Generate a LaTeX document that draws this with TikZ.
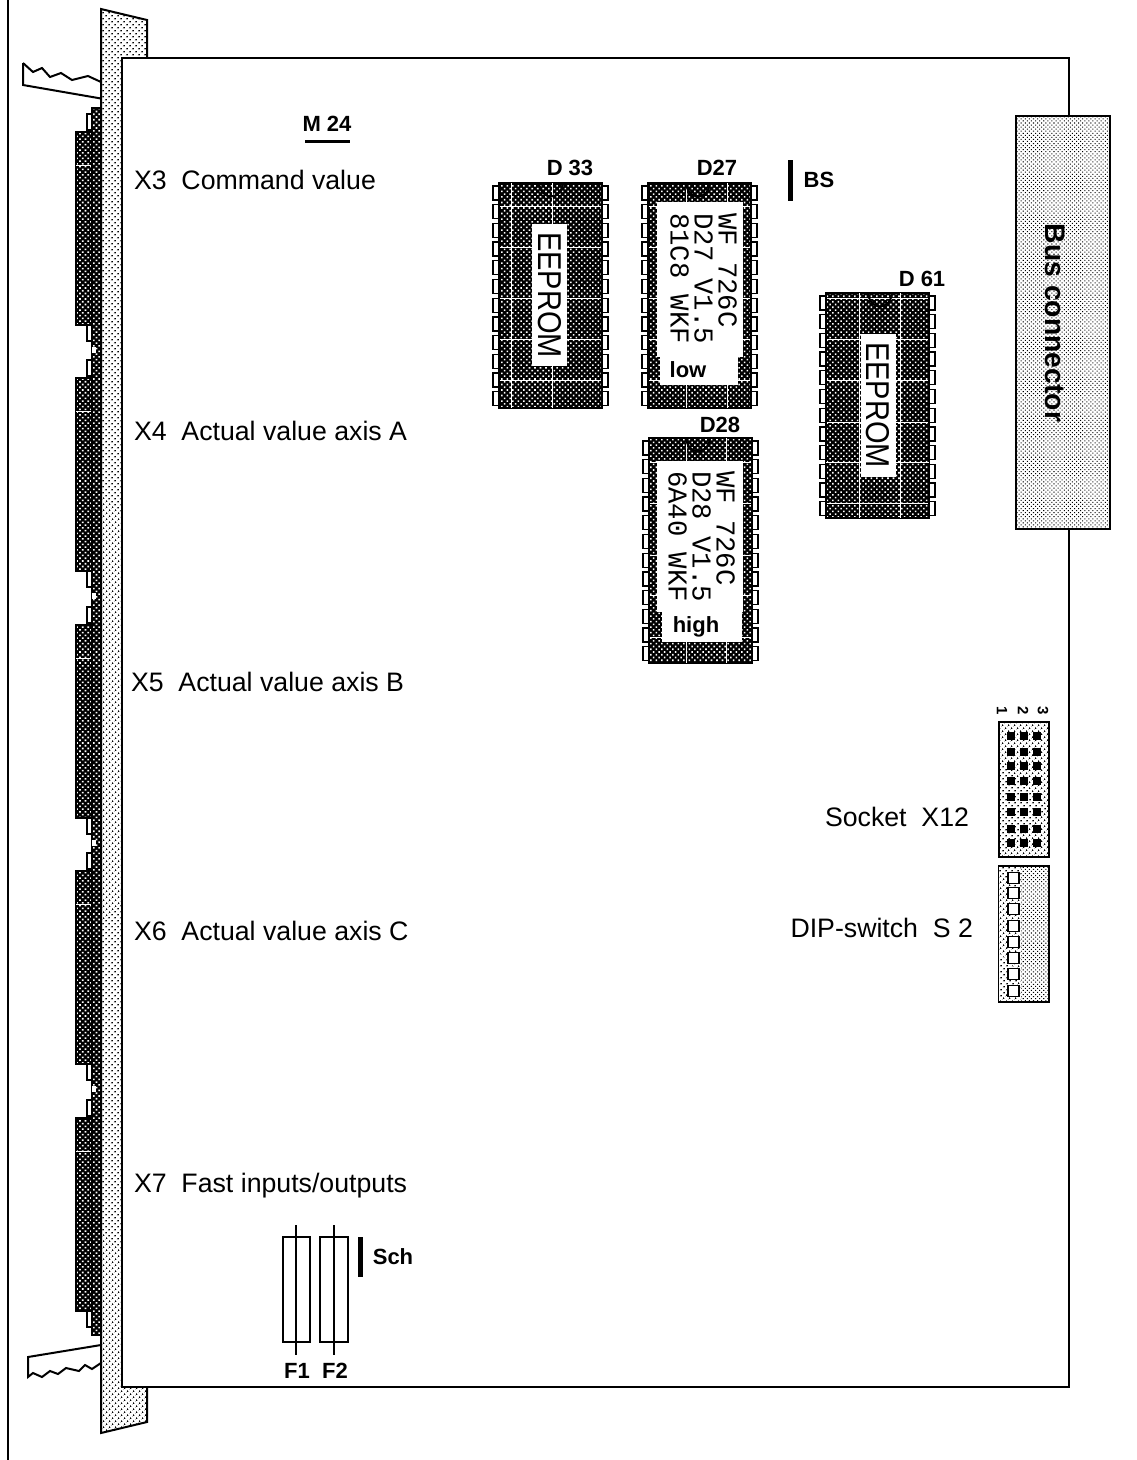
\documentclass[tikz,border=0pt]{standalone}
\usepackage{fontspec}
\setmainfont{Liberation Sans}
\setmonofont{Liberation Mono}
\usetikzlibrary{patterns.meta}
\usetikzlibrary{positioning}

\newcommand{\chipbody}[5]{
	\begin{scope}[shift={(#1,#2)}]
		\draw[darkdots,chipline] (0,0) rectangle (103,225);
		\foreach \v in {#3} \draw[gridline] (\v,0) to (\v,225);
		\foreach \h in {#4} \draw[gridline] (0,\h) to (103,\h);
		\foreach \i in {0,...,11} {
			\draw[pinbox] (-6,{3+18.7*\i}) rectangle ++(6,14);
			\draw[pinbox] (103,{3+18.7*\i}) rectangle ++(6,14);
		}
		\draw[chipline,line width=2pt] (#5-12,0) .. controls (#5-10,18) and (#5+10,18) .. (#5+12,0);
	\end{scope}
}
\newcommand{\connblock}[1]{
	\draw[darkdots,chipline] (76,#1) rectangle (92,#1+193);
	\draw[gridline] (76,#1+33) to (91,#1+33);
	\draw[gridline] (91,#1) to (91,#1+193);
	\draw[pinbox] (87,#1-18) rectangle (95,#1-2);
	\draw[pinbox] (87,#1+193) rectangle (95,#1+209);
}

\begin{document}
\begin{tikzpicture}[
		x=1pt, y=-1pt,
		line width=2pt,
		darkdots/.style = {preaction={fill=black},pattern={Dots[radius=1.1pt,distance=3.9pt,angle=45]},pattern color=white},
		lightdots/.style = {preaction={fill=white},pattern={Dots[radius=0.95pt,distance=4pt,angle=45]},pattern color=black},
		finedots/.style = {preaction={fill=white},pattern={Dots[radius=0.72pt,distance=2.9pt,angle=45]},pattern color=black},
		chipline/.style = {draw=black,line width=1.5pt},
		gridline/.style = {draw=white,line width=1pt},
		pinbox/.style = {draw=black,fill=white,line width=1.3pt},
		window/.style = {fill=white,draw=none},
		plain/.style = {inner sep=0pt,text depth=0pt,font=\fontsize{26.7}{30}\selectfont},
		boldlabel/.style = {inner sep=0pt,font=\bfseries\fontsize{22}{24}\selectfont},
		eeprom/.style = {inner sep=0pt,rotate=-90,font=\fontsize{33}{36}\selectfont},
		chiptext/.style = {inner sep=0pt,rotate=-90,align=left,anchor=north west,font=\ttfamily\fontsize{27.3}{24}\selectfont},
		marker/.style = {fill=black,draw=none}
		]
	\useasboundingbox (0,0) rectangle (1137,1460);

	\draw (7.5,0) to (7.5,1460);

	% handles
	\coordinate (h1) at (23,63);
	\coordinate (h2) at (33,72);
	\coordinate (h3) at (42,68);
	\coordinate (h4) at (50,77);
	\coordinate (h5) at (61,73);
	\coordinate (h6) at (72,80);
	\coordinate (h7) at (88,76);
	\coordinate (h8) at (101,82);
	\coordinate (h9) at (101,98.5);
	\coordinate (h10) at (23,85);
	\draw (h1) to (h2) to (h3) to (h4) to (h5) to (h6) to (h7) to (h8);
	\draw (h9) to (h10) to (h1);

	\coordinate (k1) at (28,1357);
	\coordinate (k2) at (28,1377);
	\coordinate (k3) at (33,1373);
	\coordinate (k4) at (42,1377);
	\coordinate (k5) at (50,1371);
	\coordinate (k6) at (58,1374);
	\coordinate (k7) at (66,1368);
	\coordinate (k8) at (79,1371);
	\coordinate (k9) at (85,1365);
	\coordinate (k10) at (92,1369);
	\coordinate (k11) at (101,1363);
	\coordinate (k12) at (101,1345);
	\draw (k12) to (k1) to (k2) to (k3) to (k4) to (k5) to (k6) to (k7) to (k8) to (k9) to (k10) to (k11);

	% front connectors
	\connblock{132}
	\connblock{378}
	\connblock{625}
	\connblock{871}
	\connblock{1118}
	\draw[darkdots,chipline] (92,108) rectangle (101,1335);
	\foreach \y in {350,596,843,1089} \fill[white] (92,\y-3) rectangle (96,\y+3);

	% front panel and board
	\coordinate (p1) at (101,9);
	\coordinate (p2) at (147,20);
	\coordinate (p3) at (147,1422);
	\coordinate (p4) at (101,1433);
	\draw[lightdots] (p1) to (p2) to (p3) to (p4) to cycle;
	\draw[fill=white] (122,58) rectangle (1069,1387);

	% bus connector
	\draw[finedots] (1016,116) rectangle (1110,529);
	\draw[gridline,line width=0.6pt] (1017,300) to (1109,300);
	\draw[gridline,line width=0.6pt] (1017,462) to (1109,462);
	\node[rotate=-90,inner sep=0pt,font=\bfseries\fontsize{28.3}{30}\selectfont] (bus) at (1055,323) {Bus connector};

	% memory chips
	\chipbody{499}{183}{12,53}{23,64,115,156,197}{52}
	\chipbody{648}{183}{38,79}{23,64,115,156,197}{50}
	\chipbody{649}{438}{37,77}{24,65,117,157,199}{49}
	\chipbody{826}{293}{33,74}{5,46,87,129,169,210}{54}

	\fill[window] (532,224) rectangle (567,366);
	\fill[window] (861,334) rectangle (896,477);
	\fill[window] (657,202) rectangle (743,357);
	\fill[window] (660,357) rectangle (738,385);
	\fill[window] (657,461) rectangle (743,612);
	\fill[window] (662,612) rectangle (742,642);

	\node[eeprom] (rom33) at (550,295) {\scalebox{0.88}[1]{EEPROM}};
	\node[eeprom] (rom61) at (878,405) {\scalebox{0.88}[1]{EEPROM}};
	\node[chiptext] (txt27) at (738,212) {WF 726C\\D27 V1.5\\81C8 WKF};
	\node[chiptext] (txt28) at (736,470) {WF 726C\\D28 V1.5\\6A40 WKF};
	\node[boldlabel] (low) at (688,370) {low};
	\node[boldlabel] (high) at (696,626.5) {high};

	\node[boldlabel] (d33) at (570,168) {D 33};
	\node[boldlabel] (d27) at (717,168) {D27};
	\node[boldlabel] (d28) at (720,425) {D28};
	\node[boldlabel] (d61) at (922,279) {D 61};

	\node[boldlabel] (m24) at (327,124) {M 24};
	\fill[marker] (305,139.5) rectangle (350,143);
	\fill[marker] (788,160) rectangle (793,201);
	\node[boldlabel] (bs) at (819,180) {BS};

	% front labels
	\node[plain,anchor=west] (x3) at (133,180) {X3\ \ Command value};
	\node[plain,anchor=west] (x4) at (133,431) {X4\ \ Actual value axis A};
	\node[plain,anchor=west] (x5) at (130,682) {X5\ \ Actual value axis B};
	\node[plain,anchor=west] (x6) at (133,931) {X6\ \ Actual value axis C};
	\node[plain,anchor=west] (x7) at (133,1183) {X7\ \ Fast inputs/outputs};

	% socket and switch
	\draw[lightdots,chipline] (999,722) rectangle (1049,857);
	\foreach \y in {736,752,766,781,797,812,829,843}
		\foreach \x in {1011,1024,1037}
			\fill[black] (\x-4,\y-4) rectangle (\x+4,\y+4);
	\node[rotate=-90,inner sep=0pt,font=\bfseries\fontsize{15}{15}\selectfont] (n1) at (1002,711) {1};
	\node[rotate=-90,inner sep=0pt,font=\bfseries\fontsize{15}{15}\selectfont] (n2) at (1023,711) {2};
	\node[rotate=-90,inner sep=0pt,font=\bfseries\fontsize{15}{15}\selectfont] (n3) at (1043,711) {3};
	\node[plain,anchor=east] (x12) at (970,817) {Socket\ \ X12};

	\draw[finedots,chipline] (999,866) rectangle (1049,1002);
	\fill[lightdots] (999,867) rectangle (1021,1001);
	\foreach \y in {878,893,909,926,942,958,974,991}
		\draw[pinbox] (1008,\y-5.5) rectangle (1019,\y+5.5);
	\node[plain,anchor=east] (s2) at (974,928) {DIP-switch\ \ S 2};

	% fuses
	\draw[line width=1.5pt] (283,1237) rectangle (310,1342);
	\draw[line width=1.5pt] (320,1237) rectangle (348,1342);
	\draw[line width=1.5pt] (296,1225) to (296,1355);
	\draw[line width=1.5pt] (334,1225) to (334,1355);
	\node[boldlabel] (f1) at (297,1371) {F1};
	\node[boldlabel] (f2) at (335,1371) {F2};
	\fill[marker] (358,1237) rectangle (363,1277);
	\node[boldlabel] (sch) at (393,1257) {Sch};
\end{tikzpicture}
\end{document}
